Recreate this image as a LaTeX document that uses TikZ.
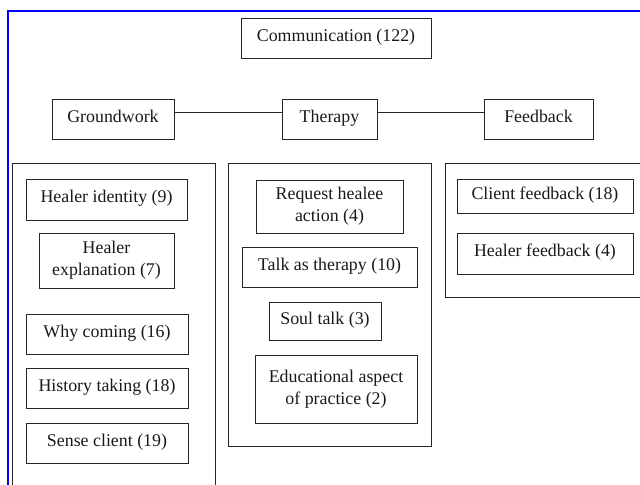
\documentclass[tikz,border=0pt]{standalone}
\usepackage{fontspec}
\setmainfont{Liberation Serif}
\tikzstyle{catbox}=[draw, inner sep=0, outer sep=0, align=center]
\tikzstyle{oneline}=[catbox, text height=0.68em, text depth=0.22em]
\tikzstyle{boxsize}=[minimum width=#1*0.75pt]
\tikzstyle{column}=[draw, black!85]
\tikzstyle{frame}=[draw, blue, line width=1.5pt]
\tikzstyle{codebook}=[x=0.75pt, y=-0.75pt, line width=0.6pt,
                      % Times-like text at the scale of the scan.
                      every node/.style={font=\fontsize{13.4}{16.8}\selectfont, text=black!90},
                      catbox/.append style={black!85, text=black!90}]

\begin{document}
\begin{tikzpicture}[codebook]
        \useasboundingbox (0, 0) rectangle (640, 485);
        \draw[frame] (8, 485) -- (8, 11) -- (640, 11);
        \draw[column] (12, 485) -- (12, 163) -- (215, 163) -- (215, 485);
        \draw[column] (228, 163) rectangle (431, 446);
        \draw[column] (640, 163) -- (445, 163) -- (445, 297) -- (640, 297);
        \node[oneline, boxsize=190, minimum height=30pt] (comm)   at (336, 38)    {Communication (122)};
        \node[oneline, boxsize=122, minimum height=30pt] (ground) at (113, 119)   {Groundwork};
        \node[oneline, boxsize=95,  minimum height=30pt] (ther)   at (329.5, 119) {Therapy};
        \node[oneline, boxsize=109, minimum height=30pt] (feed)   at (538.5, 119) {Feedback};
        \node[oneline, boxsize=161, minimum height=30.75pt] (hid)   at (106.5, 199.5) {Healer identity (9)};
        \node[catbox,  boxsize=135, minimum height=41.25pt] (hexp)  at (106.5, 260.5) {Healer\\explanation (7)};
        \node[oneline, boxsize=162, minimum height=30pt]    (why)   at (107, 334)     {Why coming (16)};
        \node[oneline, boxsize=162, minimum height=30pt]    (hist)  at (107, 388)     {History taking (18)};
        \node[oneline, boxsize=162, minimum height=30pt]    (sense) at (107, 443)     {Sense client (19)};
        \node[catbox,  boxsize=147, minimum height=39.75pt] (req)   at (329.5, 206.5) {Request healee\\action (4)};
        \node[oneline, boxsize=175, minimum height=30pt]    (talk)  at (329.5, 267)   {Talk as therapy (10)};
        \node[oneline, boxsize=112, minimum height=28.5pt]  (soul)  at (325, 321)     {Soul talk (3)};
        \node[catbox,  boxsize=162, minimum height=51pt]    (edu)   at (336, 389)     {Educational aspect\\of practice (2)};
        \node[oneline, boxsize=176, minimum height=25.5pt]  (cfb)   at (545, 196)     {Client feedback (18)};
        \node[oneline, boxsize=176, minimum height=30.75pt] (hfb)   at (545, 253.5)   {Healer feedback (4)};
        \draw[black!85] ([yshift=5pt]ground.east) -- ([yshift=5pt]ther.west);
        \draw[black!85] ([yshift=5pt]ther.east) -- ([yshift=5pt]feed.west);
    \end{tikzpicture}
\end{document}
